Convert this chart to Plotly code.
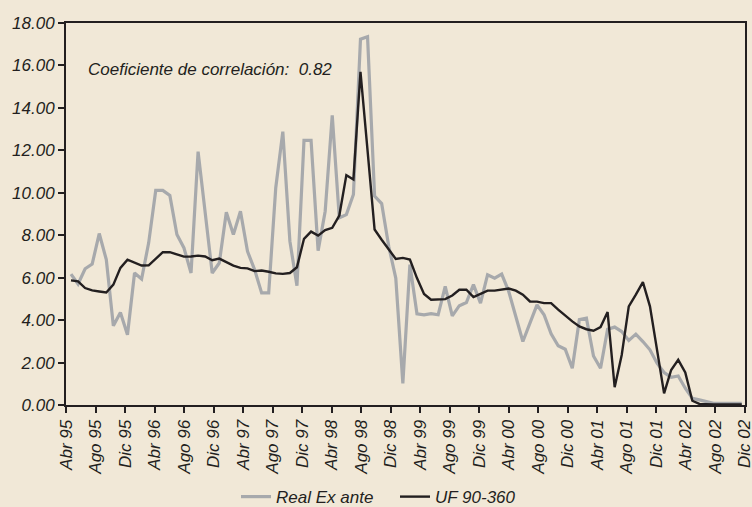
import plotly.graph_objects as go

# Real Ex ante (grey) - 96 observations
real_ex_ante = [6.17, 5.70, 6.42, 6.64, 8.08, 6.85, 3.73, 4.36, 3.31, 6.22,
                5.94, 7.64, 10.11, 10.11, 9.87, 8.03, 7.40, 6.22, 11.94, 9.10,
                6.22, 6.69, 9.08, 8.03, 9.13, 7.24, 6.38, 5.28, 5.28, 10.24,
                12.88, 7.72, 5.62, 12.47, 12.47, 7.27, 9.13, 13.65, 8.82, 8.97,
                9.92, 17.24, 17.35, 9.84, 9.49, 7.48, 5.98, 1.02, 6.61, 4.30,
                4.25, 4.30, 4.25, 5.59, 4.20, 4.68, 4.83, 5.67, 4.80, 6.14,
                5.98, 6.17, 5.35, 4.17, 2.99, 3.86, 4.72, 4.25, 3.35, 2.79,
                2.63, 1.73, 4.02, 4.09, 2.31, 1.73, 3.57, 3.67, 3.46, 3.04,
                3.34, 2.99, 2.60, 1.97, 1.53, 1.31, 1.37, 0.79, 0.31, 0.24,
                0.16, 0.08, 0.08, 0.08, 0.08, 0.08]

# UF 90-360 (black)
uf_90_360 = [5.87, 5.83, 5.51, 5.40, 5.35, 5.30, 5.67, 6.46, 6.85, 6.72,
             6.57, 6.58, 6.88, 7.20, 7.20, 7.09, 6.99, 7.00, 7.04, 7.00,
             6.82, 6.90, 6.74, 6.57, 6.46, 6.44, 6.31, 6.34, 6.28, 6.20,
             6.18, 6.22, 6.49, 7.83, 8.17, 7.98, 8.24, 8.35, 8.93, 10.83,
             10.63, 15.70, 12.00, 8.27, 7.79, 7.32, 6.88, 6.93, 6.85, 5.98,
             5.23, 4.96, 4.99, 4.99, 5.16, 5.43, 5.43, 5.09, 5.24, 5.39,
             5.39, 5.43, 5.49, 5.39, 5.20, 4.88, 4.87, 4.80, 4.80, 4.49,
             4.20, 3.94, 3.70, 3.57, 3.50, 3.67, 4.38, 0.84, 2.36, 4.65,
             5.20, 5.79, 4.65, 2.60, 0.55, 1.65, 2.13, 1.53, 0.20, 0.05,
             0.03, 0.03, 0.03, 0.03, 0.03, 0.03]

tick_labels = ["Abr 95", "Ago 95", "Dic 95", "Abr 96", "Ago 96", "Dic 96",
               "Abr 97", "Ago 97", "Dic 97", "Abr 98", "Ago 98", "Dic 98",
               "Abr 99", "Ago 99", "Dic 99", "Abr 00", "Ago 00", "Dic 00",
               "Abr 01", "Ago 01", "Dic 01", "Abr 02", "Ago 02", "Dic 02"]

y_ticks = [0, 2, 4, 6, 8, 10, 12, 14, 16, 18]

obs = list(range(len(real_ex_ante)))

# axis spans from first to last tick label; observations sit slightly inside
x_lo, x_hi = -0.708, 95.43
n_t = len(tick_labels)
tick_pos = [x_lo + k * (x_hi - x_lo) / (n_t - 1) for k in range(n_t)]

BG = "#F1E8D7"
GREY = "#A7A9AC"
BLACK = "#231F20"
FONT = "Liberation Sans, Arial, sans-serif"

fig = go.Figure()
fig.add_trace(go.Scatter(x=obs, y=real_ex_ante, mode="lines", name="Real Ex ante",
                         line=dict(color=GREY, width=3.2)))
fig.add_trace(go.Scatter(x=obs, y=uf_90_360, mode="lines", name="UF 90-360",
                         line=dict(color=BLACK, width=2.4)))

fig.add_annotation(x=(86 - 66) / 679, xref="paper", y=15.8, yref="y",
                   text="<i>Coeficiente de correlación:  0.82</i>", showarrow=False,
                   xanchor="left", yanchor="middle",
                   font=dict(family=FONT, size=17, color=BLACK))

fig.update_layout(
    width=752, height=507,
    paper_bgcolor=BG, plot_bgcolor=BG,
    margin=dict(l=66, r=7, t=23, b=102, autoexpand=False),
    showlegend=True,
    legend=dict(orientation="h", x=(236 - 66) / 679, xanchor="left",
                y=-0.241, yanchor="middle",
                font=dict(family=FONT, size=17, color=BLACK, style="italic"),
                bgcolor="rgba(0,0,0,0)", entrywidth=114, entrywidthmode="pixels",
                tracegroupgap=0),
    font=dict(family=FONT, color=BLACK),
)

fig.update_xaxes(range=[x_lo, x_hi + 0.03], tickmode="array", tickvals=tick_pos,
                 ticktext=tick_labels, tickangle=-90, ticks="outside", ticklen=6,
                 tickwidth=1.5, tickcolor=BLACK, showgrid=False, zeroline=False,
                 showline=True, linecolor=BLACK, linewidth=2, mirror=True,
                 ticklabeloverflow="allow",
                 tickfont=dict(family=FONT, size=17, color=BLACK, style="italic"))
fig.update_yaxes(range=[0, 18], tickmode="array", tickvals=y_ticks,
                 ticktext=[f"{v:.2f}" for v in y_ticks], ticks="outside", ticklen=6,
                 tickwidth=1.5, tickcolor=BLACK, showgrid=False, zeroline=False,
                 showline=True, linecolor=BLACK, linewidth=2, mirror=True,
                 tickfont=dict(family=FONT, size=17, color=BLACK, style="italic"))

fig.write_html("out.html", config={"displayModeBar": False},
               post_script="document.body.style.margin='0';document.body.style.background='" + BG + "';")
